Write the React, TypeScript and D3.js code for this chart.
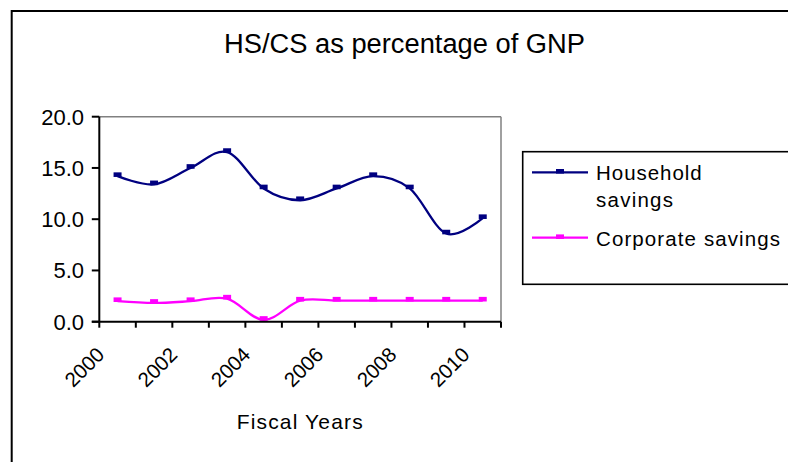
import React from 'react';
import * as d3 from 'd3';

const years = ['2000', '2001', '2002', '2003', '2004', '2005', '2006', '2007', '2008', '2009', '2010'];
const yearLabels = ['2000', '2002', '2004', '2006', '2008', '2010'];
const household = [14.2, 13.4, 15.0, 16.55, 13.0, 11.85, 13.0, 14.2, 13.0, 8.6, 10.1];
const corporate = [2.0, 1.83, 2.0, 2.25, 0.17, 2.05, 2.05, 2.05, 2.05, 2.05, 2.05];
const yTicks = [0, 5, 10, 15, 20];
const titleText = 'HS/CS as percentage of GNP';
const xTitle = 'Fiscal Years';
const seriesColors = ['#000080', '#FF00FF'];

const FONT = '"Liberation Sans", Arial, sans-serif';

export default function App() {
  const left = 99.3, right = 501, top = 116.7, bottom = 321.7;
  const x = d3.scaleBand<string>().domain(years).range([left, right]).padding(0);
  const y = d3.scaleLinear().domain([0, 20]).range([bottom, top]);
  const cx = (yr: string) => (x(yr) as number) + x.bandwidth() / 2;
  const lineGen = d3
    .line<number>()
    .x((_, i) => cx(years[i]))
    .y((d) => y(d))
    .curve(d3.curveCatmullRom.alpha(0));
  const series = [household, corporate];
  const tickXs = [...years.map((yr) => x(yr) as number), right];
  const markerOffset = -1.5;

  return (
    <svg width={788} height={462} style={{ position: 'absolute', left: 0, top: 0, background: '#fff' }}>
      <rect x={11.7} y={11} width={800} height={500} fill="#fff" stroke="#000" strokeWidth={2} />
      <text x={404.5} y={53} textAnchor="middle" fontFamily={FONT} fontSize={27} textLength={361} lengthAdjust="spacingAndGlyphs">
        {titleText}
      </text>
      {/* plot frame */}
      <line x1={left} y1={top} x2={right} y2={top} stroke="#808080" strokeWidth={1.5} />
      <line x1={right} y1={top} x2={right} y2={bottom} stroke="#808080" strokeWidth={1.5} />
      {/* series */}
      {series.map((s, si) => (
        <g key={si}>
          <path d={lineGen(s) || ''} fill="none" stroke={seriesColors[si]} strokeWidth={2.3} />
          {s.map((v, i) => (
            <rect key={i} x={cx(years[i]) - 4} y={y(v) + markerOffset - 2.3} width={8} height={4.6} fill={seriesColors[si]} />
          ))}
        </g>
      ))}
      {/* axes */}
      <line x1={left} y1={top} x2={left} y2={bottom} stroke="#000" strokeWidth={2} />
      <line x1={left - 7.5} y1={bottom} x2={right} y2={bottom} stroke="#000" strokeWidth={2} />
      {yTicks.map((t) => (
        <g key={t}>
          <line x1={left - 7.5} x2={left} y1={y(t)} y2={y(t)} stroke="#000" strokeWidth={2} />
          <text x={84} y={y(t) + 7.8} textAnchor="end" fontFamily={FONT} fontSize={22}>
            {t.toFixed(1)}
          </text>
        </g>
      ))}
      {tickXs.map((tx, i) => (
        <line key={i} x1={tx} x2={tx} y1={bottom} y2={bottom + 6} stroke="#000" strokeWidth={2} />
      ))}
      {yearLabels.map((yr) => {
        const ax = cx(yr) - 12;
        const ay = 356;
        return (
          <text key={yr} x={ax} y={ay} textAnchor="end" fontFamily={FONT} fontSize={20.5} transform={`rotate(-45 ${ax} ${ay})`}>
            {yr}
          </text>
        );
      })}
      <text x={236.7} y={429} fontFamily={FONT} fontSize={21} textLength={126}>
        {xTitle}
      </text>
      {/* legend */}
      <rect x={522.7} y={151.7} width={300} height={132.6} fill="#fff" stroke="#000" strokeWidth={1.6} />
      {[172.3, 237.7].map((ly, i) => (
        <g key={i}>
          <line x1={532} x2={588} y1={ly} y2={ly} stroke={seriesColors[i]} strokeWidth={2.3} />
          <rect x={556} y={ly - 3.3} width={8} height={4.6} fill={seriesColors[i]} />
        </g>
      ))}
      <text x={596} y={180} fontFamily={FONT} fontSize={20.5} textLength={105.7}>Household</text>
      <text x={596} y={207} fontFamily={FONT} fontSize={20.5} textLength={77}>savings</text>
      <text x={596} y={246} fontFamily={FONT} fontSize={20.5} textLength={184}>Corporate savings</text>
    </svg>
  );
}
